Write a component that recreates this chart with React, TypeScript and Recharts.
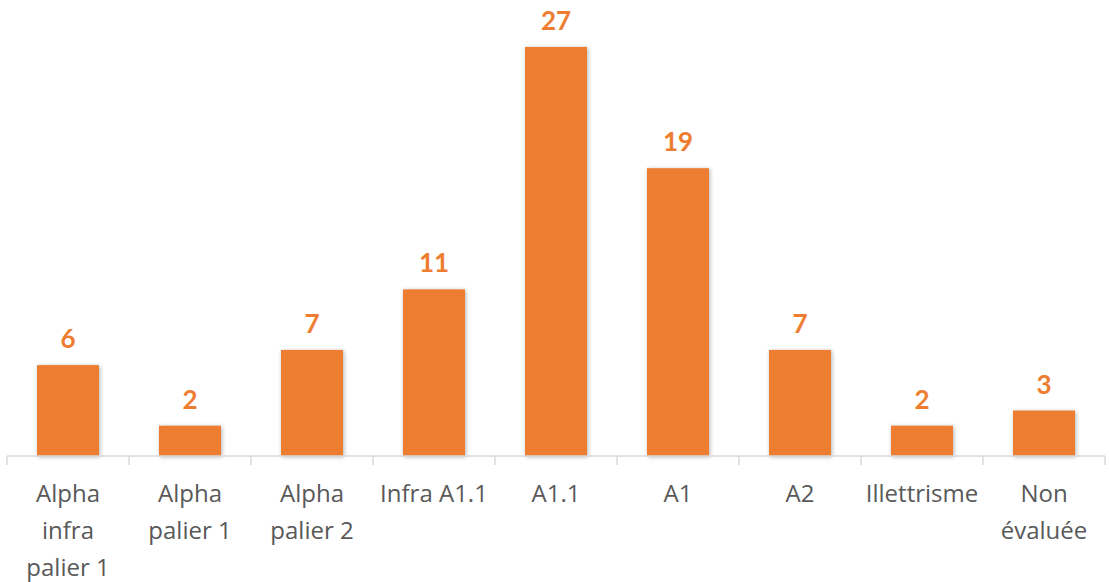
import React from "react";
import { BarChart, Bar, XAxis, YAxis, LabelList } from "recharts";

const categories = [
  "Alpha\ninfra\npalier 1",
  "Alpha\npalier 1",
  "Alpha\npalier 2",
  "Infra A1.1",
  "A1.1",
  "A1",
  "A2",
  "Illettrisme",
  "Non\névaluée",
];
const values = [6, 2, 7, 11, 27, 19, 7, 2, 3];

const data = categories.map((c, i) => ({ name: c, value: values[i] }));

const FONT = "'Open Sans', 'Noto Sans', sans-serif";
const AXIS_COLOR = "#d9d9d9";

const CustomTick = (props: any) => {
  const { x, y, payload, index, visibleTicksCount } = props;
  const half = payload && payload.offset ? payload.offset : 61;
  const lines = String(payload.value).split("\n");
  const isLast = index === (visibleTicksCount ?? categories.length) - 1;
  return (
    <g>
      <line
        x1={x - half}
        x2={x - half}
        y1={y - 8}
        y2={y + 1}
        stroke={AXIS_COLOR}
        strokeWidth={1.5}
      />
      {isLast && (
        <line
          x1={x + half}
          x2={x + half}
          y1={y - 8}
          y2={y + 1}
          stroke={AXIS_COLOR}
          strokeWidth={1.5}
        />
      )}
      <g transform={`translate(${x},${y})`}>
        {lines.map((l: string, i: number) => (
          <text
            key={i}
            x={0}
            y={38 + i * 37}
            textAnchor="middle"
            fill="#595959"
            fontSize={24}
            fontFamily={FONT}
          >
            {l}
          </text>
        ))}
      </g>
    </g>
  );
};

const ShadowBar = (props: any) => {
  const { x, y, width, height, fill } = props;
  return (
    <rect
      x={x}
      y={y}
      width={width}
      height={height}
      fill={fill}
      style={{ filter: "drop-shadow(1px 1px 2px rgba(0,0,0,0.3))" }}
    />
  );
};

export default function App() {
  return (
    <div style={{ position: "absolute", left: 0, top: 0, background: "#fff" }}>
      <BarChart
        width={1109}
        height={582}
        data={data}
        margin={{ top: 47, right: 4, bottom: 0, left: 7 }}
      >
        <XAxis
          dataKey="name"
          interval={0}
          height={126}
          stroke={AXIS_COLOR}
          strokeWidth={1.5}
          tickLine={false}
          tick={<CustomTick />}
        />
        <YAxis hide domain={[0, 27]} />
        <Bar
          dataKey="value"
          fill="#ED7D31"
          barSize={62}
          isAnimationActive={false}
          shape={<ShadowBar />}
        >
          <LabelList
            dataKey="value"
            position="top"
            offset={17}
            fill="#ED7D31"
            fontSize={26}
            fontWeight="bold"
            fontFamily="Lato, 'Open Sans', sans-serif"
          />
        </Bar>
      </BarChart>
    </div>
  );
}
